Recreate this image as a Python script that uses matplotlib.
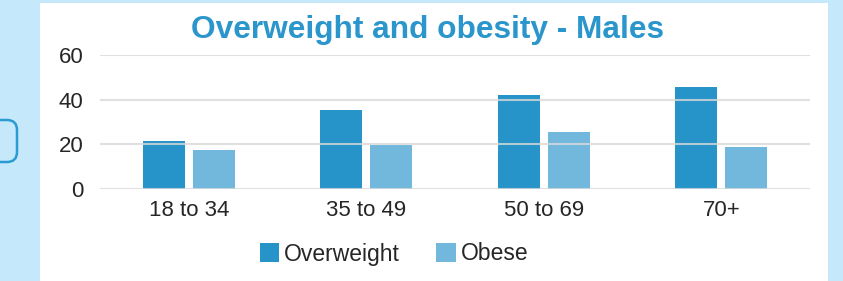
import matplotlib
matplotlib.use("Agg")
import matplotlib.pyplot as plt
import matplotlib.transforms as mtransforms
import numpy as np
from matplotlib.patches import FancyBboxPatch, Rectangle

# data
age_groups = ["18 to 34", "35 to 49", "50 to 69", "70+"]
overweight = [21.6, 35.4, 42.2, 45.8]
obese = [17.5, 19.8, 25.6, 18.9]

col_over = "#2694c9"
col_obese = "#72b8dd"
col_title = "#2a96cc"
col_bg = "#c5e8fb"

plt.rcParams['font.family'] = ['Liberation Sans', 'DejaVu Sans']

fig = plt.figure(figsize=(8.43, 2.81), dpi=100)
fig.patch.set_facecolor(col_bg)

W, H = 843., 281.

# white panel
fig.patches.append(Rectangle((40 / W, 0), 788 / W, 278 / H, transform=fig.transFigure,
                             facecolor="white", edgecolor="none", zorder=-1))
# partial rounded box at left edge (pixel coords)
fig.patches.append(FancyBboxPatch((-30, 281 - 162), 47, 42,
                                  boxstyle="round,pad=0,rounding_size=10",
                                  transform=mtransforms.IdentityTransform(),
                                  facecolor=col_bg, edgecolor="#2a9bd3",
                                  linewidth=1.8, zorder=-1))

ax = fig.add_axes([100 / W, (281 - 189) / H, 710 / W, 134 / H])
ax.set_facecolor("none")
ax.set_zorder(2)

x = np.arange(len(age_groups))
bw = 0.237
gap = 0.045
ax.bar(x - (bw + gap) / 2, overweight, bw, color=col_over, zorder=2, label="Overweight")
ax.bar(x + (bw + gap) / 2, obese, bw, color=col_obese, zorder=2, label="Obese")

ax.set_ylim(0, 60)
ax.set_xlim(-0.5, 3.5)
ax.set_yticks([0, 20, 40, 60])
ax.set_xticks(x)
ax.set_xticklabels(age_groups)
ax.yaxis.grid(True, color="#d9d9d9", linewidth=1.5, alpha=0.8, zorder=3)
ax.set_axisbelow(False)
for s in ax.spines.values():
    s.set_visible(False)
ax.tick_params(length=0, labelsize=16, colors="#262626")
ax.tick_params(axis="y", pad=12)
ax.tick_params(axis="x", pad=8)

fig.text(427 / W, 1 - 30 / H, "Overweight and obesity - Males", ha="center", va="center",
         fontsize=22.8, fontweight="bold", color=col_title)

fig.legend(loc="center", bbox_to_anchor=(394 / W, 1 - 254 / H), ncol=2, frameon=False,
           fontsize=16.5, handlelength=0.85, handleheight=0.85, handletextpad=0.2,
           columnspacing=1.6, labelcolor="#262626")

fig.savefig("out.png", dpi=100, facecolor=fig.get_facecolor())
